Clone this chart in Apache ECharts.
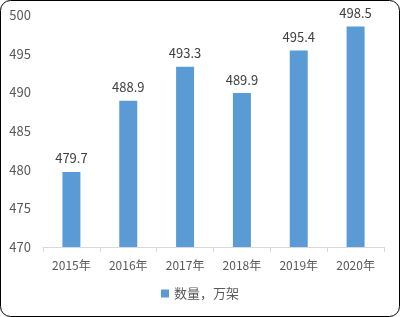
<!DOCTYPE html>
<html><head><meta charset="utf-8">
<script src="https://cdn.jsdelivr.net/npm/echarts@6/dist/echarts.min.js"></script>
<style>html,body{margin:0;padding:0;background:#fff}#c{width:400px;height:317px}</style>
</head><body><div id="c"></div>
<script>
var categories = ['2015年','2016年','2017年','2018年','2019年','2020年'];
var values = [479.7, 488.9, 493.3, 489.9, 495.4, 498.5];
var seriesName = '数量，万架';
var font = '"Noto Sans CJK SC", "Noto Sans", sans-serif';
var chart = echarts.init(document.getElementById('c'), null, {renderer:'canvas'});
chart.setOption({
  animation:false,
  textStyle:{fontFamily:font},
  graphic:[{type:'rect', shape:{x:0.5,y:0.5,width:399,height:316,r:10}, style:{fill:'none',stroke:'#000',lineWidth:1}, z:-1}],
  grid:{left:43, right:16, top:15, bottom:70},
  legend:{bottom:12, left:'center', itemWidth:8, itemHeight:8, icon:'rect', itemGap:6,
    textStyle:{fontSize:13,color:'#595959',fontFamily:font}, data:[seriesName]},
  xAxis:{type:'category', data:categories,
    axisLine:{lineStyle:{color:'#d9d9d9'}},
    axisTick:{show:true, alignWithLabel:false, length:5, lineStyle:{color:'#d9d9d9'}},
    axisLabel:{fontSize:12,color:'#595959',margin:12,fontFamily:font}},
  yAxis:{type:'value', min:470, max:500, interval:5,
    splitLine:{show:false}, axisLine:{show:false}, axisTick:{show:false},
    axisLabel:{fontSize:13,color:'#595959',margin:12,fontFamily:font}},
  series:[{name:seriesName, type:'bar', data:values, barWidth:18,
    itemStyle:{color:'#5b9bd5'},
    label:{show:true, position:'top', distance:7, fontSize:13, color:'#404040', fontFamily:font}}]
});
</script></body></html>
